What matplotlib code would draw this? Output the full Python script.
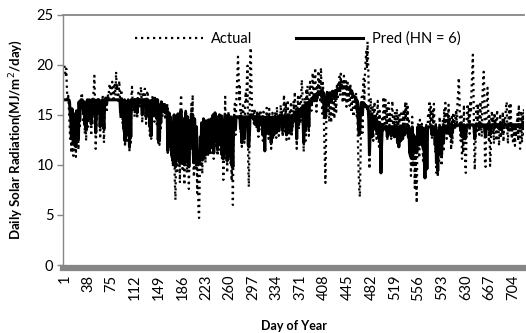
import numpy as np
import matplotlib
matplotlib.use('Agg')
import matplotlib.pyplot as plt

plt.rcParams['font.family'] = ['Lato', 'DejaVu Sans']

# Дневная солнечная радиация (MJ/m2/day)
actual = [
    19.9, 19.3, 18.8, 19.6, 17.4, 16.5, 16.9, 15.8, 14.1, 12.6,
    13.8, 11.2, 15.4, 12.1, 10.9, 14.6, 11.8, 13.2, 10.8, 15.1,
    12.4, 14.8, 11.5, 16.2, 13.6, 15.9, 16.4, 17.2, 16.8, 15.3,
    14.2, 16.1, 13.1, 15.6, 12.4, 14.9, 16.3, 13.8, 15.2, 16.6,
    14.4, 15.8, 12.9, 16.5, 14.0, 16.8, 17.5, 18.9, 16.2, 11.6,
    13.4, 15.7, 16.6, 15.1, 16.4, 15.6, 12.6, 14.3, 16.2, 15.4,
    16.8, 13.9, 12.2, 15.8, 16.9, 16.3, 15.2, 16.7, 17.1, 16.5,
    17.6, 18.1, 17.3, 16.8, 17.9, 18.3, 17.4, 16.6, 17.8, 18.2,
    16.9, 19.3, 17.6, 18.0, 16.4, 17.2, 18.4, 16.8, 14.6, 17.5,
    16.8, 14.1, 16.5, 13.2, 16.6, 11.8, 16.2, 15.7, 12.4, 14.9,
    16.4, 13.5, 11.3, 15.8, 12.2, 16.9, 17.8, 16.1, 15.2, 16.4,
    14.8, 16.6, 15.4, 16.3, 14.6, 16.8, 17.2, 16.0, 15.6, 16.9,
    17.8, 16.4, 14.2, 17.3, 16.5, 15.8, 17.6, 16.2, 14.1, 16.7,
    17.4, 16.9, 15.3, 14.2, 12.9, 16.1, 12.6, 15.4, 16.8, 17.0,
    16.2, 14.3, 16.7, 15.1, 16.5, 13.8, 16.4, 12.2, 14.6, 12.0,
    15.8, 13.4, 16.1, 15.6, 14.8, 16.0, 15.2, 16.3, 14.5, 15.6,
    14.9, 16.2, 11.2, 13.6, 15.1, 11.8, 14.4, 12.9, 10.6, 13.8,
    9.8, 12.7, 14.6, 8.5, 6.5, 11.2, 13.9, 9.4, 15.2, 10.3,
    12.8, 8.2, 16.2, 17.0, 12.4, 9.6, 14.1, 10.8, 8.0, 13.5,
    15.4, 11.1, 9.2, 14.3, 12.0, 7.6, 10.9, 13.8, 11.4, 16.1,
    12.5, 17.0, 10.2, 8.8, 14.2, 11.6, 9.5, 13.1, 7.2, 10.4,
    5.6, 4.7, 8.3, 12.2, 10.0, 13.9, 9.1, 11.8, 14.6, 10.5,
    12.9, 10.2, 14.1, 11.4, 13.0, 10.8, 14.4, 12.1, 11.0, 13.6,
    14.3, 11.2, 12.5, 14.8, 10.6, 13.2, 15.1, 11.9, 14.0, 12.3,
    10.9, 14.5, 12.8, 15.0, 11.5, 13.4, 14.7, 10.4, 12.6, 8.5,
    11.1, 13.9, 16.8, 10.6, 14.2, 9.2, 12.7, 15.3, 11.3, 13.8,
    10.1, 14.6, 8.4, 11.2, 6.0, 12.8, 14.9, 16.1, 13.0, 15.5,
    17.4, 18.9, 20.8, 19.2, 16.3, 17.8, 13.2, 15.6, 11.8, 14.4,
    16.2, 14.0, 12.2, 15.7, 17.3, 16.4, 18.6, 19.9, 10.2, 7.8,
    12.6, 20.4, 21.7, 18.2, 15.8, 14.6, 15.2, 14.1, 15.6, 13.8,
    14.9, 13.6, 15.4, 14.2, 12.8, 15.1, 13.9, 15.5, 14.3, 13.5,
    14.8, 12.4, 15.3, 13.1, 11.5, 14.6, 12.9, 15.7, 13.4, 14.9,
    12.6, 15.6, 13.2, 14.4, 11.6, 13.8, 15.2, 12.5, 14.1, 13.0,
    15.3, 14.0, 12.7, 15.8, 13.5, 14.7, 12.9, 15.1, 14.2, 16.0,
    13.6, 15.4, 12.8, 14.5, 17.0, 15.9, 13.3, 16.2, 12.5, 14.8,
    16.5, 13.9, 12.6, 15.4, 14.1, 16.3, 12.8, 15.0, 13.7, 16.4,
    15.1, 17.3, 14.2, 16.0, 11.6, 15.5, 16.8, 13.4, 17.0, 15.6,
    14.1, 16.9, 18.5, 17.2, 13.8, 11.3, 15.9, 16.7, 12.4, 17.6,
    16.2, 17.9, 15.1, 12.9, 16.5, 18.3, 17.0, 15.4, 16.8, 19.2,
    17.5, 16.1, 18.4, 19.7, 17.2, 15.3, 18.0, 16.6, 19.4, 17.8,
    18.6, 16.2, 19.7, 17.4, 15.1, 18.2, 16.9, 13.2, 10.5, 8.2,
    12.4, 16.8, 17.5, 15.4, 16.9, 14.3, 17.2, 15.9, 14.2, 16.6,
    17.4, 15.0, 16.8, 14.6, 17.1, 16.2, 15.3, 17.9, 16.5, 18.3,
    17.2, 18.8, 16.9, 19.1, 17.6, 18.4, 16.2, 17.8, 18.9, 16.5,
    17.3, 18.6, 15.8, 17.9, 18.2, 16.4, 17.0, 15.9, 18.1, 16.8,
    15.2, 17.4, 16.1, 14.8, 16.3, 16.6, 15.5, 17.2, 14.8, 15.9,
    12.1, 9.4, 7.6, 6.8, 10.5, 14.6, 16.8, 13.2, 17.5, 18.6,
    16.4, 19.2, 20.4, 21.3, 19.6, 22.3, 20.1, 17.0, 9.6, 14.1,
    16.7, 14.3, 13.0, 15.9, 12.4, 14.8, 16.3, 13.6, 15.1, 12.6,
    14.9, 16.4, 13.1, 11.8, 15.4, 13.8, 10.2, 12.9, 14.6, 13.4,
    16.8, 15.2, 14.1, 16.5, 13.7, 15.8, 12.5, 14.9, 16.2, 13.3,
    15.1, 14.4, 12.6, 15.6, 16.4, 13.9, 14.8, 12.9, 15.3, 14.0,
    13.2, 15.6, 12.1, 14.7, 11.8, 15.0, 13.5, 12.4, 15.4, 14.3,
    12.8, 14.9, 15.5, 13.1, 16.3, 14.6, 16.2, 13.4, 15.8, 12.7,
    14.4, 10.9, 13.6, 8.9, 12.2, 14.8, 9.8, 13.1, 11.4, 7.7,
    12.5, 9.3, 6.2, 11.6, 14.2, 12.9, 10.7, 14.5, 13.3, 11.9,
    14.1, 12.6, 10.4, 13.7, 9.6, 8.7, 12.3, 14.0, 10.8, 13.5,
    15.2, 14.6, 16.4, 13.9, 15.8, 14.4, 12.7, 15.5, 14.2, 16.1,
    13.8, 11.2, 14.3, 9.2, 12.5, 8.8, 13.6, 10.4, 14.8, 11.7,
    13.2, 9.9, 12.8, 14.5, 11.3, 15.6, 13.4, 16.2, 14.1, 12.6,
    15.3, 13.7, 16.0, 12.9, 14.6, 13.2, 11.5, 14.8, 12.2, 15.0,
    14.3, 15.2, 13.6, 14.9, 15.5, 13.8, 16.4, 17.2, 18.7, 16.8,
    14.2, 12.4, 15.1, 10.6, 13.8, 11.2, 16.0, 12.7, 10.1, 9.2,
    12.9, 15.4, 16.1, 14.2, 15.8, 13.1, 16.4, 15.2, 17.6, 19.1,
    21.0, 17.8, 12.4, 9.5, 11.6, 14.8, 15.9, 13.4, 16.1, 14.5,
    13.0, 15.6, 16.3, 14.1, 12.8, 16.8, 18.2, 19.3, 17.5, 10.4,
    9.8, 13.6, 16.4, 17.7, 15.8, 12.5, 14.9, 9.9, 11.3, 14.6,
    15.4, 13.2, 14.8, 12.1, 15.2, 13.9, 14.6, 12.4, 15.5, 13.7,
    14.2, 11.9, 13.5, 15.1, 12.7, 14.4, 13.1, 15.3, 12.3, 14.7,
    13.6, 14.9, 15.8, 16.3, 13.4, 12.1, 14.6, 15.9, 13.2, 16.2,
    14.5, 12.6, 13.8, 12.1, 14.0, 13.3, 11.9, 13.6, 12.8, 14.2,
    15.1, 12.4, 16.0, 14.3, 11.6, 13.9, 15.4, 12.2, 14.8, 13.5,
    15.6, 12.8, 14.4, 11.5, 13.6,
]

pred = [
    16.5, 16.5, 16.5, 16.5, 16.5, 16.5, 16.5, 16.5, 16.3, 15.2,
    14.6, 12.8, 15.6, 13.0, 12.2, 15.1, 12.5, 14.2, 11.8, 15.4,
    13.4, 15.2, 12.6, 16.3, 14.4, 16.2, 16.5, 16.5, 16.5, 16.0,
    15.2, 16.3, 14.0, 16.0, 13.5, 15.4, 16.5, 14.6, 15.8, 16.5,
    15.3, 16.2, 14.1, 16.5, 15.0, 16.5, 16.5, 16.5, 16.4, 13.2,
    14.8, 16.2, 16.5, 15.8, 16.5, 16.2, 13.8, 15.1, 16.4, 16.0,
    16.5, 14.6, 13.6, 16.2, 16.5, 16.5, 16.0, 16.5, 16.5, 16.5,
    16.5, 16.5, 16.5, 16.5, 16.5, 16.5, 16.5, 16.5, 16.5, 16.5,
    16.5, 16.5, 16.5, 16.5, 16.5, 16.5, 16.5, 16.5, 15.2, 16.5,
    16.5, 14.8, 16.4, 13.6, 16.5, 12.4, 16.3, 16.0, 13.2, 15.4,
    16.5, 14.1, 11.8, 16.0, 12.8, 16.5, 16.5, 16.4, 15.9, 16.5,
    15.5, 16.5, 16.0, 16.5, 15.2, 16.5, 16.5, 16.5, 16.2, 16.5,
    16.5, 16.5, 15.0, 16.5, 16.5, 16.3, 16.5, 16.5, 14.8, 16.5,
    16.5, 16.5, 15.9, 15.0, 13.8, 16.4, 12.9, 16.0, 16.5, 16.5,
    16.5, 15.0, 16.5, 15.8, 16.5, 14.6, 16.5, 12.5, 15.3, 12.4,
    16.0, 14.2, 16.3, 15.9, 15.4, 16.0, 15.6, 16.0, 15.2, 15.8,
    15.5, 15.7, 11.4, 14.2, 15.2, 12.1, 14.8, 13.4, 11.0, 14.2,
    10.4, 13.4, 15.0, 10.1, 9.8, 12.0, 14.6, 10.6, 15.1, 11.2,
    13.6, 10.2, 15.2, 15.4, 13.0, 10.5, 14.6, 11.4, 10.0, 14.0,
    15.2, 11.8, 10.3, 14.8, 12.6, 9.8, 11.6, 14.4, 12.0, 15.1,
    13.2, 15.0, 11.0, 10.2, 14.6, 12.2, 10.4, 13.8, 10.0, 11.2,
    10.0, 10.2, 10.4, 12.8, 10.8, 14.2, 10.5, 12.4, 14.6, 11.0,
    13.5, 11.0, 14.4, 11.8, 13.6, 11.4, 14.5, 12.6, 11.6, 14.0,
    14.6, 11.8, 13.0, 15.0, 11.2, 13.8, 15.2, 12.4, 14.5, 12.9,
    11.5, 14.8, 13.2, 15.0, 12.0, 13.9, 14.9, 11.0, 13.1, 10.6,
    11.8, 14.3, 15.0, 11.2, 14.6, 10.4, 13.2, 15.0, 11.9, 14.2,
    10.8, 14.8, 10.0, 11.8, 9.8, 13.3, 14.9, 14.8, 13.5, 14.8,
    14.8, 14.8, 14.8, 14.8, 14.7, 14.8, 13.6, 14.8, 12.2, 14.6,
    14.8, 14.4, 12.6, 14.8, 14.8, 14.8, 14.8, 14.8, 12.0, 11.8,
    13.2, 15.0, 15.0, 15.0, 14.9, 14.7, 14.8, 14.5, 14.8, 14.2,
    14.8, 14.0, 14.8, 14.5, 13.4, 14.8, 14.3, 14.8, 14.6, 14.0,
    14.8, 13.0, 14.8, 13.6, 11.4, 14.7, 13.2, 14.8, 13.8, 14.8,
    13.1, 14.8, 13.6, 14.7, 12.2, 14.2, 14.8, 13.0, 14.6, 13.6,
    14.8, 14.5, 13.2, 14.8, 14.0, 14.8, 13.4, 14.8, 14.6, 14.8,
    14.1, 14.8, 13.4, 14.8, 14.8, 14.8, 13.8, 14.8, 13.0, 14.8,
    14.8, 14.3, 13.2, 14.8, 14.6, 14.8, 13.4, 14.9, 14.3, 15.0,
    15.0, 15.2, 14.6, 15.1, 12.6, 15.3, 15.4, 14.0, 15.5, 15.5,
    14.8, 15.6, 15.7, 15.8, 14.4, 12.2, 15.8, 16.0, 13.4, 16.1,
    16.1, 16.2, 15.8, 13.8, 16.3, 16.4, 16.5, 16.0, 16.6, 16.7,
    16.8, 16.6, 16.9, 17.0, 17.0, 16.4, 17.1, 17.0, 17.2, 17.2,
    17.3, 17.0, 17.3, 17.2, 16.3, 17.3, 17.0, 15.2, 14.8, 14.7,
    15.4, 17.0, 17.2, 16.8, 17.1, 16.2, 17.2, 17.0, 16.4, 17.2,
    17.3, 16.8, 17.3, 16.6, 17.4, 17.4, 17.0, 17.5, 17.5, 17.6,
    17.6, 17.7, 17.6, 17.8, 17.8, 17.8, 17.7, 17.8, 17.8, 17.8,
    17.8, 17.8, 17.6, 17.8, 17.7, 17.6, 17.6, 17.5, 17.5, 17.4,
    17.2, 17.2, 17.0, 16.9, 16.8, 16.8, 16.6, 16.6, 16.3, 16.4,
    15.2, 13.6, 13.0, 13.4, 15.4, 16.2, 16.2, 15.0, 16.2, 16.2,
    16.0, 16.0, 15.8, 15.9, 15.8, 15.6, 15.6, 14.5, 11.0, 13.2,
    15.1, 14.5, 12.8, 14.9, 13.6, 14.6, 14.8, 14.0, 14.5, 13.4,
    14.3, 14.3, 13.6, 12.6, 14.2, 13.8, 9.2, 12.0, 13.8, 13.8,
    13.8, 13.8, 13.6, 13.8, 13.5, 13.8, 12.8, 13.7, 13.8, 13.2,
    13.8, 13.7, 12.9, 13.8, 13.8, 13.6, 13.8, 12.8, 13.8, 13.6,
    12.9, 13.8, 12.2, 13.6, 11.8, 13.8, 13.2, 12.4, 13.8, 13.7,
    12.6, 13.8, 13.8, 13.0, 13.8, 13.8, 13.8, 13.2, 13.8, 12.8,
    13.6, 11.2, 13.2, 10.8, 12.4, 13.8, 11.0, 13.0, 12.2, 11.6,
    12.8, 11.8, 11.2, 12.4, 13.8, 13.0, 12.0, 13.8, 13.5, 12.6,
    13.8, 13.0, 11.8, 13.6, 10.4, 8.7, 12.6, 13.8, 9.6, 13.4,
    13.8, 13.8, 13.8, 13.8, 13.8, 13.8, 13.0, 13.8, 13.8, 13.8,
    13.6, 12.0, 13.8, 10.2, 12.8, 9.4, 13.4, 11.2, 13.8, 12.2,
    13.2, 11.0, 13.0, 13.8, 12.2, 13.8, 13.6, 13.9, 13.8, 13.2,
    13.9, 13.8, 13.9, 13.2, 13.9, 13.6, 12.8, 13.9, 13.2, 13.9,
    13.9, 14.0, 13.8, 14.0, 14.0, 13.9, 14.0, 14.0, 14.0, 14.0,
    14.0, 13.4, 14.0, 12.8, 13.9, 13.0, 14.0, 13.6, 12.6, 12.8,
    13.8, 14.0, 14.0, 14.0, 14.0, 13.8, 14.0, 14.0, 14.0, 14.0,
    14.0, 14.0, 13.6, 12.6, 13.4, 14.0, 14.0, 13.9, 14.0, 14.0,
    13.8, 14.0, 14.0, 14.0, 13.8, 14.0, 14.0, 14.0, 14.0, 13.2,
    12.8, 13.9, 14.0, 14.0, 14.0, 13.6, 14.0, 13.0, 13.4, 14.0,
    14.0, 13.8, 14.0, 13.6, 14.0, 14.0, 14.0, 13.8, 14.0, 14.0,
    14.0, 13.6, 14.0, 14.0, 13.8, 14.0, 14.0, 14.0, 13.7, 14.0,
    14.0, 14.0, 14.0, 14.0, 13.8, 13.6, 14.0, 14.0, 14.0, 14.0,
    14.0, 13.8, 14.0, 13.7, 14.0, 14.0, 13.6, 14.0, 14.0, 14.0,
    14.0, 13.8, 14.0, 14.0, 13.7, 14.0, 14.0, 13.8, 14.0, 14.0,
    14.0, 14.0, 14.0, 13.6, 14.0,
]

days = np.arange(1, len(actual) + 1)
xticks = np.arange(1, 705, 37)
yticks = [0, 5, 10, 15, 20, 25]

fig = plt.figure(figsize=(5.26, 3.33), dpi=100)
ax = fig.add_axes([0.12, 0.204, 0.876, 0.752])

ax.plot(days, actual, color='black', linestyle=(0, (1, 1.7)), linewidth=1.6,
        label='Actual')
ax.plot(days, pred, color='black', linewidth=2.2, label='Pred (HN = 6)')

ax.set_xlim(-1, 721)
ax.set_ylim(0, 25)
ax.set_yticks(yticks)
ax.set_xticks(xticks)
ax.set_xticklabels([str(v) for v in xticks])

gray = '#868686'
ax.spines['right'].set_visible(False)
ax.spines['left'].set_color(gray)
ax.spines['left'].set_linewidth(1.0)
ax.spines['top'].set_color(gray)
ax.spines['top'].set_linewidth(1.3)
ax.spines['bottom'].set_color(gray)
ax.spines['bottom'].set_linewidth(4.5)
ax.spines['bottom'].set_position(('outward', 2))
ax.tick_params(axis='y', colors=gray, labelcolor='black', length=4, width=1,
               labelsize=10.5, pad=3)
ax.tick_params(axis='x', length=0, labelsize=10.5, pad=5, labelrotation=90)

ax.set_xlabel('Day of Year', fontsize=9, fontweight='bold', labelpad=14)
ax.set_ylabel('Daily Solar Radiation(MJ/m$^{2}$/day)', fontsize=9.5,
              fontweight='bold', labelpad=8)

ax.legend(loc='upper center', bbox_to_anchor=(0.51, 0.985), ncol=2,
          frameon=False, fontsize=10.5, handlelength=4.6, columnspacing=3.0,
          handletextpad=0.6)

fig.savefig('out.png', dpi=100)
